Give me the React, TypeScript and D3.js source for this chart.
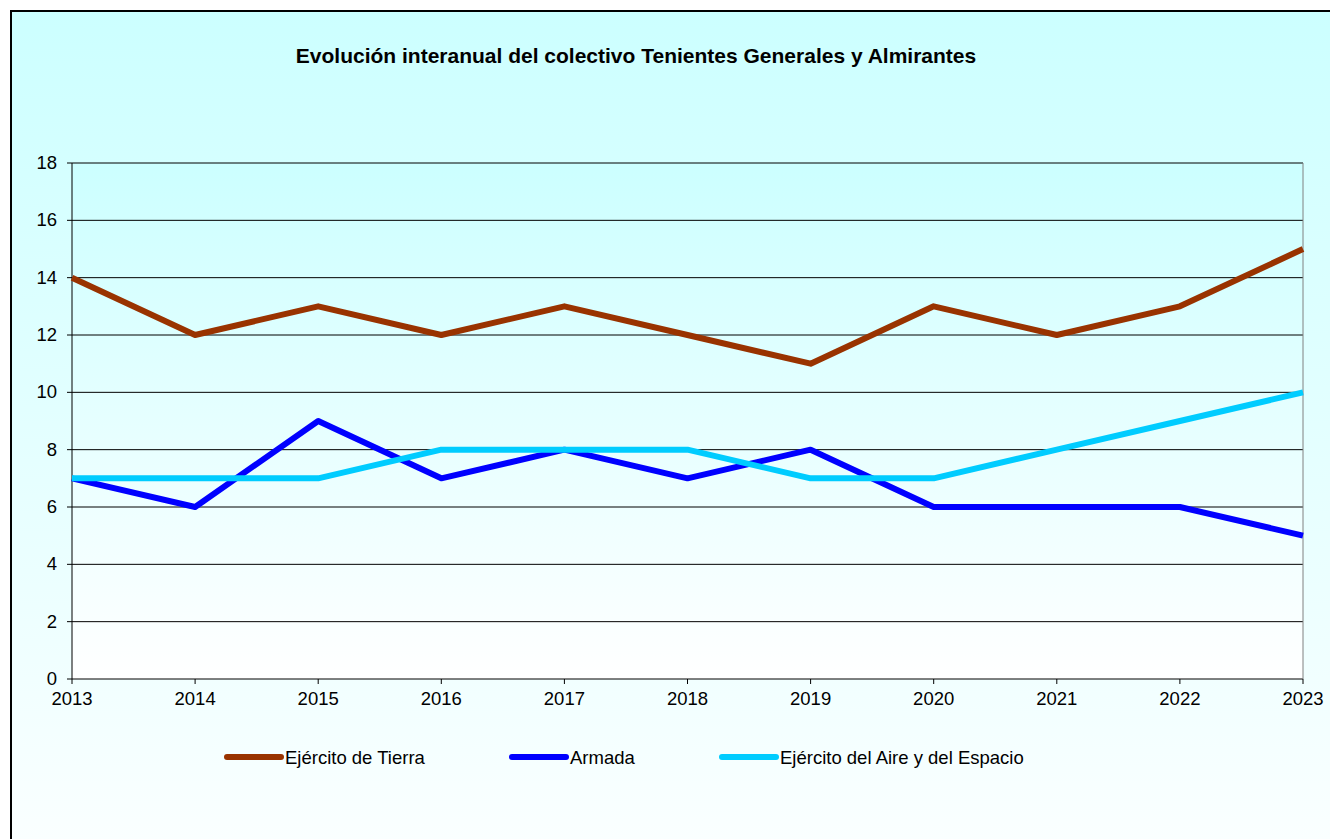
import React from "react";
import * as d3 from "d3";

const years = ["2013", "2014", "2015", "2016", "2017", "2018", "2019", "2020", "2021", "2022", "2023"];
const tierra = [14, 12, 13, 12, 13, 12, 11, 13, 12, 13, 15];
const armada = [7, 6, 9, 7, 8, 7, 8, 6, 6, 6, 5];
const aire = [7, 7, 7, 8, 8, 8, 7, 7, 8, 9, 10];
const yTicks = [0, 2, 4, 6, 8, 10, 12, 14, 16, 18];

const series = [
  { name: "Ejército de Tierra", values: tierra, color: "#993300", lx: 227 },
  { name: "Armada", values: armada, color: "#0000FF", lx: 512 },
  { name: "Ejército del Aire y del Espacio", values: aire, color: "#00CCFF", lx: 722 },
];

const W = 1330;
const H = 839;
const left = 72;
const right = 1303;
const top = 163;
const bottom = 679;
const font = "'Liberation Sans', Arial, sans-serif";

export default function App() {
  const x = d3.scalePoint<string>().domain(years).range([left, right]);
  const y = d3.scaleLinear().domain([0, 18]).range([bottom, top]);
  const line = d3
    .line<number>()
    .x((_, i) => x(years[i]) as number)
    .y((d) => y(d));

  return (
    <svg
      width={W}
      height={H}
      style={{ position: "absolute", left: 0, top: 0, fontFamily: font }}
    >
      <defs>
        <linearGradient id="bgOuter" x1="0" y1="0" x2="0" y2="1">
          <stop offset="0%" stopColor="#CCFFFF" />
          <stop offset="100%" stopColor="#FFFFFF" />
        </linearGradient>
        <linearGradient id="bgPlot" x1="0" y1="0" x2="0" y2="1">
          <stop offset="0%" stopColor="#CCFFFF" />
          <stop offset="100%" stopColor="#FFFFFF" />
        </linearGradient>
      </defs>
      <rect x={0} y={0} width={W} height={H} fill="#FFFFFF" />
      <rect x={11} y={11} width={W + 20} height={H + 80} fill="url(#bgOuter)" stroke="#000" strokeWidth={2} />

      <text x={636} y={63} textAnchor="middle" fontSize={21} fontWeight="bold" fill="#000">
        Evolución interanual del colectivo Tenientes Generales y Almirantes
      </text>

      <rect x={left} y={top} width={right - left} height={bottom - top} fill="url(#bgPlot)" />

      {yTicks.map((t) => (
        <g key={t}>
          <line x1={left} x2={right} y1={y(t)} y2={y(t)} stroke="#000" strokeWidth={1} />
          <line x1={left - 5} x2={left} y1={y(t)} y2={y(t)} stroke="#000" />
          <text x={57} y={y(t) + 6} textAnchor="end" fontSize={18.5} fill="#000">
            {t}
          </text>
        </g>
      ))}
      <line x1={right} x2={right} y1={top} y2={bottom} stroke="#808080" strokeWidth={1} />
      <line x1={left} x2={left} y1={top} y2={bottom} stroke="#000" strokeWidth={1} />

      {years.map((yr) => (
        <g key={yr}>
          <line x1={x(yr)} x2={x(yr)} y1={bottom} y2={bottom + 5} stroke="#000" />
          <text x={x(yr)} y={bottom + 26} textAnchor="middle" fontSize={18.5} fill="#000">
            {yr}
          </text>
        </g>
      ))}

      {series.map((s) => (
        <path
          key={s.name}
          d={line(s.values) || ""}
          fill="none"
          stroke={s.color}
          strokeWidth={6}
          strokeLinejoin="round"
        />
      ))}

      {series.map((s) => (
        <g key={s.name + "-leg"}>
          <line x1={s.lx} x2={s.lx + 54} y1={757} y2={757} stroke={s.color} strokeWidth={6} strokeLinecap="round" />
          <text x={s.lx + 58} y={764} fontSize={18.5} fill="#000">
            {s.name}
          </text>
        </g>
      ))}
    </svg>
  );
}
